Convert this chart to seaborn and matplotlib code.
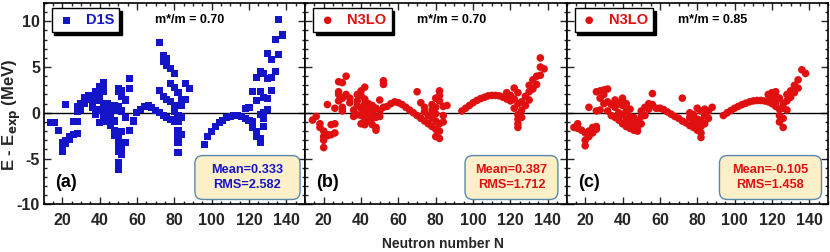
import numpy as np
import pandas as pd
import matplotlib
matplotlib.use("Agg")
import matplotlib.pyplot as plt
from matplotlib.ticker import MultipleLocator
from matplotlib.patches import FancyBboxPatch
import seaborn as sns

# --- data (N, E - Eexp in MeV) ---
n_d1s = [14, 16, 18, 20, 20, 20, 22, 22, 22, 24, 24, 26, 26, 28, 28, 28, 28, 30, 30, 32, 32, 34, 34,
         36, 36, 38, 38, 38, 38, 40, 40, 40, 40, 40, 40, 42, 42, 42, 42, 42, 42, 44, 44, 44, 44,
         46, 46, 46, 48, 48, 48, 48, 48, 50, 50, 50, 50, 50, 50, 50, 50, 52, 52, 52, 52, 52, 52, 52,
         54, 54, 54, 56, 56, 56,
         58, 60, 62, 64, 66, 68, 70, 72, 74, 76, 78, 80, 82,
         72, 74, 74, 76, 76, 78, 80, 78, 80, 82, 84, 72, 74, 76, 78, 80, 80, 82, 82, 82, 82, 82,
         84, 84, 84, 86, 86, 88,
         96, 98, 100, 102, 104, 106, 108, 110, 112, 114, 116, 118, 120, 122,
         118, 120, 122, 122, 124, 124, 124, 124, 126, 126, 126, 126, 126, 128, 128, 128, 128, 128,
         130, 130, 130, 130, 132, 132, 132, 134, 134, 136, 136, 138]
de_d1s = [-1.1, -1.1, -1.9, -3.2, -4.2, -3.6, 0.9, -3.0, -3.4, -2.6, -2.9, -2.4, -0.95, -0.95, -2.3, 0.2, 0.7,
          1.0, 0.4, 1.7, 1.0, 1.9, 1.5,
          1.2, 0.6, 2.3, 1.6, 0.1, -0.2, 2.6, 1.9, 1.3, 0.4, -1.1, 2.9, 3.3, 2.8, 2.3, 0.6, -0.4, -0.8,
          0.4, -0.5, -1.0, 1.0,
          -1.4, -0.3, 0.6, -1.9, -2.5, -0.9, 0.8, 0.3, -2.8, -3.5, -4.2, -5.4, -6.2, 2.7, 2.3, 0.7,
          -3.2, -4.6, -3.8, -2.0, 1.8, 2.4, 0.2, -3.2, 1.4, -0.5, 3.7, 2.7, -1.9,
          -0.9, 0.0, 0.4, 0.7, 0.75, 0.6, 0.3, 0.0, -0.3, -0.5, -0.7, -0.9, -1.0,
          7.7, 6.3, 5.6, 5.9, 5.2, 4.8, 4.3, 3.2, 2.8, 2.2, 1.5, 2.4, 1.8, 1.5, 1.2, 0.8, 0.2, -0.3,
          -1.9, -2.6, -3.2, -4.3, -2.4, -0.5, 0.8, 3.2, 1.5, 2.7,
          -3.5, -2.6, -2.0, -1.5, -1.1, -0.8, -0.55, -0.4, -0.3, -0.3, -0.4, -0.6, -0.8, -1.0,
          0.5, 0.6, 2.3, -1.6, 3.9, 1.3, -2.0, -2.6, 4.5, 2.3, -0.2, -3.2, -2.8, 4.3, 1.7, 0.0, -1.5,
          -0.6, 6.5, 3.7, 1.6, 0.4, 5.8, 3.9, 2.4, 8.0, 4.5, 10.2, 6.4, 8.5]

n_n3lo70 = [14, 16, 18, 18, 20, 20, 20, 20, 22, 22, 22, 24, 24, 26, 26, 26, 28, 28, 28, 28, 30, 30, 30, 30,
            32, 32, 34, 34,
            36, 36, 38, 38, 38, 38, 40, 40, 40, 40, 40, 42, 42, 42, 42, 42, 42, 44, 44, 44, 44,
            46, 46, 46, 46, 48, 48, 48, 48, 50, 50, 50, 52, 52, 52,
            54, 56, 58, 60, 62, 64, 66, 68, 70, 72, 74, 76, 78, 80, 82,
            70, 72, 74, 74, 76, 78, 78, 78, 80, 80, 80, 80, 80, 82, 82, 82, 82, 82, 84, 84, 84, 86,
            94, 96, 98, 100, 102, 104, 106, 108, 110, 112, 114, 116, 118, 120,
            118, 120, 122, 122, 122, 124, 124, 124, 124, 124, 124, 126, 126, 126, 128, 128,
            130, 130, 130, 132, 132, 134, 134, 136, 136, 138, 136]
de_n3lo70 = [-0.8, -0.4, -1.2, -1.6, -2.0, -2.6, -3.8, -3.0, -2.5, 0.9, -2.4, -1.3, -2.4, -2.2, -1.2, 0.5,
             2.0, 2.3, 3.4, 1.3, 3.3, 1.6, 0.2, 0.6, 4.0, 2.0, 1.6, 1.1,
             0.3, -0.4, 1.3, 2.0, 0.8, -0.2, 2.4, 1.9, 0.5, -0.3, -1.2, 2.8, 1.5, 1.0, 0.2, -0.6, -1.3,
             1.0, 0.4, -0.3, -0.9, -0.6, -1.3, 0.1, 0.8, -1.6, -1.9, -0.5, 0.5, 0.2, -0.4, 1.4,
             3.5, 3.1, 0.6,
             0.7, 1.0, 1.2, 1.1, 0.9, 0.6, 0.3, 0.0, -0.3, -0.6, -0.9, -1.2, -1.5, -1.8, -2.0,
             2.3, 1.1, 0.6, 0.1, -0.3, 0.9, 0.3, -0.6, 1.6, 0.6, -0.1, -0.9, -2.6, -2.8, -1.2, 2.4, 1.9,
             1.3, 0.7, -0.3, -1.0, 0.8,
             0.2, 0.5, 0.8, 1.1, 1.35, 1.55, 1.7, 1.85, 1.9, 1.9, 1.85, 1.7, 1.5, 1.3,
             2.2, 1.9, 2.7, 1.5, 0.5, 2.2, -0.2, -0.7, -1.2, -1.6, 1.0, 1.2, 0.3, -0.5, 1.8, 0.8,
             3.0, 2.3, 1.4, 3.6, 2.6, 3.1, 4.0, 5.0, 4.1, 4.8, 6.0]

n_n3lo85 = [14, 16, 16, 18, 20, 20, 20, 22, 22, 22, 24, 24, 26, 26, 26, 26, 28, 28, 28, 30, 30, 30,
            32, 32, 32,
            34, 34, 36, 36, 36, 38, 38, 38, 40, 40, 40, 40, 42, 42, 42, 42, 44, 44, 44, 44,
            46, 46, 46, 48, 48, 48, 50, 50, 50, 52, 52, 54, 54, 56, 56,
            58, 60, 62, 64, 66, 68, 70, 72, 74, 76, 78, 80,
            72, 76, 76, 78, 78, 80, 80, 80, 82, 82, 82, 82, 82, 84, 84, 84, 86, 86, 88,
            94, 96, 98, 100, 102, 104, 106, 108, 110, 112, 114, 116, 118, 120, 122,
            118, 120, 120, 122, 122, 122, 124, 124, 124, 124, 126, 126, 126, 126, 128, 128, 128,
            130, 130, 132, 132, 134, 134, 136, 138]
de_n3lo85 = [-1.6, -1.7, -1.2, -1.9, -2.2, -3.0, -3.6, -2.6, -2.0, 0.6, -1.6, -2.2, -1.8, -1.5, 0.2, 2.3,
             2.4, 1.6, 0.3, 2.5, 2.0, 1.0, 2.6, 1.2, 0.2,
             0.9, -0.3, 1.4, 0.6, -0.5, 1.0, 0.0, -0.8, 1.6, 0.8, -0.2, -1.2, 1.0, 0.2, -0.7, -1.5,
             0.4, -0.4, -1.0, -1.7, -0.5, -1.3, -1.9, -0.9, -1.6, -2.0, -1.2, -0.4, 0.2, -0.3, 0.6,
             0.4, 1.0, 2.1, 0.9,
             0.5, 0.5, 0.35, 0.1, -0.15, -0.4, -0.6, -0.9, -1.1, -1.4, -1.6, -1.9,
             1.6, 0.0, -0.5, -0.2, -1.0, 0.5, -0.7, -1.3, -2.7, -2.2, -1.5, -0.8, 0.2, -1.2, -0.3, 0.4,
             -0.6, 0.2, 0.6,
             -0.3, 0.0, 0.25, 0.5, 0.7, 0.9, 1.05, 1.2, 1.3, 1.35, 1.35, 1.3, 1.2, 1.0, 0.7,
             2.0, 2.2, 1.6, 2.3, 1.9, 1.2, 1.6, 0.4, -0.3, -1.0, -1.6, -0.6, 0.5, 1.0, 0.3, 1.3, 2.0,
             2.4, 1.7, 3.0, 2.2, 3.6, 2.7, 4.7, 4.3]

model_names = ["D1S", "N3LO", "N3LO"]
mass_labels = ["m*/m = 0.70", "m*/m = 0.70", "m*/m = 0.85"]
panel_tags = ["(a)", "(b)", "(c)"]
means = ["0.333", "0.387", "-0.105"]
rms = ["2.582", "1.712", "1.458"]

# --- style ---
sns.set_style("ticks")
plt.rcParams['font.family'] = ['Liberation Sans', 'DejaVu Sans']
plt.rcParams['font.weight'] = 'bold'
plt.rcParams['mathtext.default'] = 'bf'
plt.rcParams['axes.unicode_minus'] = False

blue = "#1414c8"
red = "#e01010"
colors = [blue, red, red]
markers = ["s", "o", "o"]

# stats box extents (axes fraction: x0, x1)
box_x = [(0.579, 0.981), (0.612, 0.967), (0.585, 0.975)]

fig = plt.figure(figsize=(8.3, 2.52), dpi=100)
left, width = 43.5 / 830, 261.5 / 830
bottom, height = 47.7 / 252, 201.3 / 252
axes = [fig.add_axes([left + i * width, bottom, width, height]) for i in range(3)]

datasets = [(n_d1s, de_d1s), (n_n3lo70, de_n3lo70), (n_n3lo85, de_n3lo85)]

for i, ax in enumerate(axes):
    df = pd.DataFrame({"N": datasets[i][0], "dE": datasets[i][1]})
    ax.axhline(0, color="black", linewidth=1.0, zorder=1)
    sns.scatterplot(data=df, x="N", y="dE", marker=markers[i], color=colors[i],
                    s=26 if i == 0 else 30, edgecolor="none", linewidth=0,
                    label=model_names[i], ax=ax, zorder=3)

    ax.set_xlim(10, 150)
    ax.set_ylim(-10, 12)
    ax.set_xticks([20, 40, 60, 80, 100, 120, 140])
    ax.xaxis.set_minor_locator(MultipleLocator(5))
    ax.set_yticks([-10, -5, 0, 5, 10])
    ax.yaxis.set_minor_locator(MultipleLocator(1))
    ax.tick_params(which="both", top=True, right=True, direction="in", width=1.0,
                   labelsize=11.5)
    ax.tick_params(which="major", length=5)
    ax.tick_params(which="minor", length=2.5)
    ax.tick_params(axis="x", pad=6)
    ax.tick_params(axis="y", pad=2.5)
    for lab in ax.get_xticklabels() + ax.get_yticklabels():
        lab.set_fontweight("bold")
    for sp in ax.spines.values():
        sp.set_linewidth(1.2)
        sp.set_color("black")
    ax.set_xlabel("")
    ax.set_ylabel("")
    if i > 0:
        ax.tick_params(axis="y", labelleft=False)

    leg = ax.legend(loc="upper left", bbox_to_anchor=(0.031, 0.975), borderaxespad=0,
                    frameon=True, fancybox=False, shadow={"color": "black", "alpha": 1.0},
                    handletextpad=0.7, handlelength=1.3, borderpad=0.35,
                    prop={"weight": "bold", "size": 10.5}, labelcolor=colors[i])
    leg.get_frame().set_edgecolor("black")
    leg.get_frame().set_linewidth(1.0)

    ax.text(0.56, 0.915, mass_labels[i], transform=ax.transAxes, ha="center", va="center",
            fontsize=9, fontweight="bold", color="black")
    ax.text(0.044, 0.106, panel_tags[i], transform=ax.transAxes, ha="left", va="center",
            fontsize=13, fontweight="bold", color="black")

    x0, x1 = box_x[i]
    box = FancyBboxPatch((x0, 0.024), x1 - x0, 0.218, transform=ax.transAxes,
                         boxstyle="round,pad=0,rounding_size=0.03", mutation_aspect=1.3,
                         facecolor="#fdf0c8", edgecolor="#5a88ac", linewidth=1.0, zorder=4)
    ax.add_patch(box)
    ax.text((x0 + x1) / 2, 0.133, "Mean=%s\nRMS=%s" % (means[i], rms[i]), transform=ax.transAxes,
            ha="center", va="center", fontsize=9.2, fontweight="bold", color=colors[i],
            linespacing=1.25, zorder=5)

axes[0].set_ylabel("E - E$_{\\mathbf{exp}}$ (MeV)", fontsize=12, fontweight="bold")
axes[0].yaxis.set_label_coords(-0.078, 0.446)
axes[1].set_xlabel("Neutron number N", fontsize=10, fontweight="bold")
axes[1].xaxis.set_label_coords(0.528, -0.16)

fig.savefig("out.png", dpi=100)
